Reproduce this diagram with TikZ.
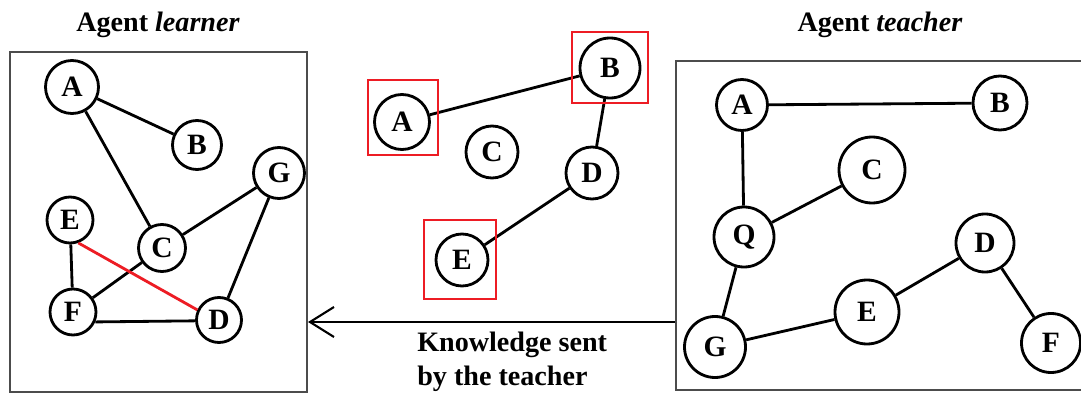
\documentclass[tikz,border=0pt]{standalone}
\usepackage{fontspec}
\setmainfont{Liberation Serif}
\usetikzlibrary{calc,arrows.meta}
\definecolor{selred}{RGB}{237,28,36}
\tikzset{
	vertex/.style={circle, draw=black, line width=2pt, inner sep=0pt, minimum size=#1 * 0.25cm, font=\fontsize{21}{24}\selectfont\bfseries},
	vertex/.default=5,
	link/.style={line width=2pt},
	frame/.style={line width=0.9pt, draw=black!70},
	selbox/.style={line width=2pt, draw=selred},
	title/.style={font=\fontsize{20}{24}\selectfont\bfseries}
}

\begin{document}
\begin{tikzpicture}[x=0.25cm, y=0.25cm]
			%%%%% START %%%%%
			\useasboundingbox (0, 0) rectangle (108.1, 39.6);
			
			%%%%% learner %%%%%
			\draw[frame] (1.0, 0.4) rectangle (30.7, 34.4);
			\node[title] (learnertitle) at (15.8, 37.1) {Agent \textit{learner}};
			
			\node[vertex=5.3] (lA) at (7.2, 30.9) {A};
			\node[vertex=4.9] (lB) at (19.7, 25.1) {B};
			\node[vertex=5.1] (lG) at (27.9, 22.3) {G};
			\node[vertex=4.6] (lE) at (7.0, 17.6) {E};
			\node[vertex=4.7] (lC) at (16.2, 14.8) {C};
			\node[vertex=4.6] (lF) at (7.3, 8.4) {F};
			\node[vertex=4.5] (lD) at (21.9, 7.6) {D};
			
			\draw[link] (lA) -- (lB);
			\draw[link] (lA) -- (lC);
			\draw[link] (lC) -- (lG);
			\draw[link] (lG) -- (lD);
			\draw[link] (lC) -- (lF);
			\draw[link] (lE) -- (lF);
			\draw[link] (lF.-24) -- (lD.182);
			\draw[link, draw=selred] (lE.-70) -- (lD.155);
			
			%%%%% sent %%%%%
			\node[vertex=5.5] (mA) at (40.2, 27.4) {A};
			\node[vertex=6.0] (mB) at (61.0, 32.8) {B};
			\node[vertex=5.2] (mC) at (49.2, 24.4) {C};
			\node[vertex=5.2] (mD) at (59.2, 22.3) {D};
			\node[vertex=5.2] (mE) at (46.2, 13.6) {E};
			
			\draw[link] (mA) -- (mB);
			\draw[link] (mB) -- (mD);
			\draw[link] (mD) -- (mE);
			
			\draw[selbox] ($(mA)+(-3.4,-3.3)$) rectangle ($(mA)+(3.6,4.2)$);
			\draw[selbox] ($(mB)+(-3.8,-3.5)$) rectangle ($(mB)+(3.8,3.6)$);
			\draw[selbox] ($(mE)+(-3.8,-3.9)$) rectangle ($(mE)+(3.4,4.0)$);
			
			\coordinate (sendfrom) at (67.7, 7.4);
			\coordinate (sendto) at (30.8, 7.4);
			\draw[line width=2pt, -{Straight Barb[length=6mm, width=7.5mm, line width=1.5pt]}] (sendfrom) -- (sendto);
			\node[title, anchor=north west, align=left, inner sep=0pt] (sentlabel) at (41.7, 6.4) {Knowledge sent\\by the teacher};
			
			%%%%% teacher %%%%%
			\draw[frame] (67.6, 0.6) rectangle (108.6, 33.5);
			\node[title] (teachertitle) at (88.0, 37.1) {Agent \textit{teacher}};
			
			\node[vertex=5.1] (tA) at (74.2, 29.1) {A};
			\node[vertex=5.4] (tB) at (100.0, 29.3) {B};
			\node[vertex=6.6] (tC) at (87.2, 22.6) {C};
			\node[vertex=6.0] (tQ) at (74.4, 15.9) {Q};
			\node[vertex=5.8] (tD) at (98.5, 15.3) {D};
			\node[vertex=6.4] (tE) at (86.7, 8.4) {E};
			\node[vertex=6.1] (tG) at (71.5, 4.9) {G};
			\node[vertex=5.9] (tF) at (105.1, 5.3) {F};
			
			\draw[link] (tA) -- (tB);
			\draw[link] (tA) -- (tQ);
			\draw[link] (tQ) -- (tC);
			\draw[link] (tQ) -- (tG);
			\draw[link] (tG) -- (tE);
			\draw[link] (tE) -- (tD);
			\draw[link] (tD) -- (tF);
			
			%%%%% END %%%%%
		\end{tikzpicture}
\end{document}
